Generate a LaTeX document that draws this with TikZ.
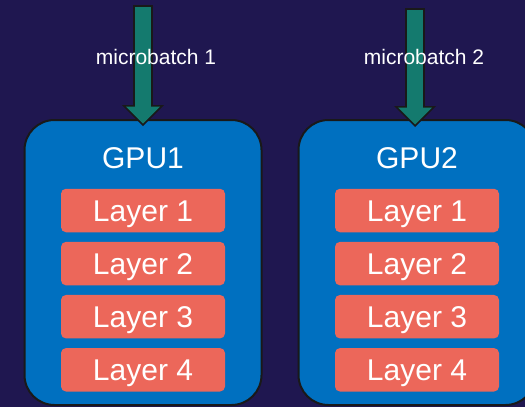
\documentclass[tikz,border=0pt]{standalone}
\usepackage{fontspec}
\setmainfont{Liberation Sans}
\usepackage{xcolor}
\definecolor{night-blue}{HTML}{1F1750}
\definecolor{gpu-blue}{HTML}{0070C0}
\definecolor{layer-red}{HTML}{EC675A}
\definecolor{feed-teal}{HTML}{147A6E}
\usepackage{tikz}
\usetikzlibrary{positioning}
\usetikzlibrary{arrows.meta}
\tikzset{gpu/.style = {draw=black!90, line width=2pt, rounded corners=30pt, fill=gpu-blue, minimum width=237pt, minimum height=285pt}}
\tikzset{gputitle/.style = {text=white, font=\fontsize{30}{36}\selectfont, text height=21.5pt, text depth=0pt, inner sep=0pt}}
\tikzset{layerbox/.style = {rounded corners=5pt, fill=layer-red, text=white, font=\fontsize{30}{36}\selectfont, minimum width=164pt, minimum height=43.5pt, text height=21.5pt, text depth=0pt, inner sep=0pt}}
\tikzset{feedout/.style = {draw=black!90, line width=20pt, -{Triangle[width=42pt, length=21pt, line width=0pt]}}}
\tikzset{feedin/.style = {draw=feed-teal, line width=16pt, shorten <=2pt, shorten >=2.5pt, -{Triangle[width=34pt, length=17pt, line width=0pt]}}}
\tikzset{mblabel/.style = {text=white, font=\fontsize{21}{25}\selectfont, inner sep=0pt}}

\begin{document}
\begin{tikzpicture}[x=1pt, y=-1pt,
  node distance = 9.2pt
]
\useasboundingbox (0,0) rectangle (525,407);
\fill[night-blue] (0,0) rectangle (525,407);
\clip (0,0) rectangle (525,407);

\node[gpu] (g1) at (143,262.5) {};
\node[gpu] (g2) at (417,262.5) {};

% first gpu
\node[gputitle] (t1) at (143,158) {GPU1};
\node[layerbox] (a1) at (143,210.5) {Layer 1};
\node[layerbox, below=of a1] (a2) {Layer 2};
\node[layerbox, below=of a2] (a3) {Layer 3};
\node[layerbox, below=of a3] (a4) {Layer 4};

% second gpu
\node[gputitle] (t2) at (417,158) {GPU2};
\node[layerbox] (b1) at (417,210.5) {Layer 1};
\node[layerbox, below=of b1] (b2) {Layer 2};
\node[layerbox, below=of b2] (b3) {Layer 3};
\node[layerbox, below=of b3] (b4) {Layer 4};

\coordinate (in1) at (143,5);
\coordinate (in2) at (415,8);

\draw[feedout] (in1) -- ([yshift=-7pt]g1.north);
\draw[feedin]  (in1) -- ([yshift=-7pt]g1.north);
\draw[feedout] (in2) -- ([xshift=-2pt, yshift=-8pt]g2.north);
\draw[feedin]  (in2) -- ([xshift=-2pt, yshift=-8pt]g2.north);

\node[mblabel] (m1) at (156,56.5) {microbatch 1};
\node[mblabel] (m2) at (424,56.5) {microbatch 2};

\end{tikzpicture}
\end{document}
